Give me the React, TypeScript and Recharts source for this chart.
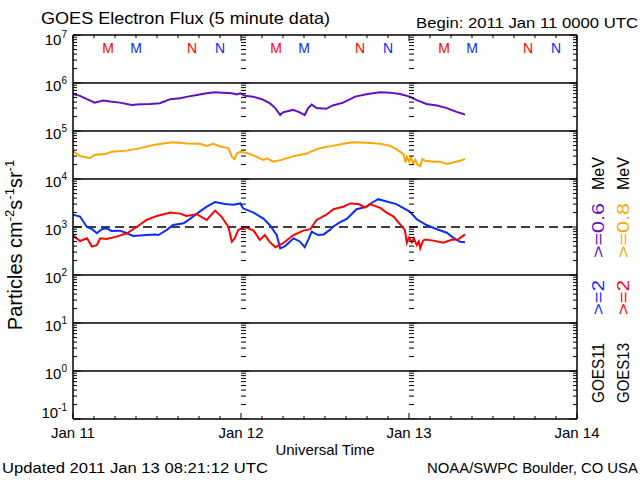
import React from 'react';
import { ComposedChart, Line, XAxis, YAxis, ReferenceLine, Scatter } from 'recharts';

const FONT = '"Liberation Sans", Arial, Helvetica, sans-serif';

// ---- axis definitions ----
const dayLabels = ['Jan 11', 'Jan 12', 'Jan 13', 'Jan 14'];
const xTicks = [0, 3, 6, 9, 12, 15, 18, 21, 24, 27, 30, 33, 36, 39, 42, 45, 48, 51, 54, 57, 60, 63, 66, 69, 72];
const yExponents = [-1, 0, 1, 2, 3, 4, 5, 6];
const decadeLines = [1e6, 1e5, 1e4, 1e2, 1e1, 1e0];
const thresholdLine = 1e3;
const dayLineHours = [24, 48];

// ---- data: hours since 2011 Jan 11 00:00 UTC ----
// GOES11 >=0.6 MeV (purple)
const g11LowT = [0, 1.0, 2.0, 3.1, 4.3, 5.3, 6.7, 8.4, 9.6, 11.0, 12.4, 13.9, 15.3, 16.4, 17.7, 19.1, 20.3, 21.4, 22.7, 23.4, 23.9, 24.6, 25.7, 27.0, 28.1, 28.9, 29.6, 30.0, 31.4, 32.4, 33.1, 33.6, 34.1, 34.8, 36.2, 37.1, 38.6, 40.3, 42.1, 43.9, 45.3, 46.7, 48.1, 49.1, 50.5, 52.0, 53.4, 54.8, 56.0];
const g11LowV = [5.9e5, 5.4e5, 4.6e5, 3.9e5, 4.3e5, 4.1e5, 3.9e5, 3.5e5, 3.6e5, 3.65e5, 3.8e5, 4.6e5, 4.8e5, 5.2e5, 5.6e5, 6.1e5, 6.4e5, 6.3e5, 6.1e5, 5.8e5, 6.1e5, 5.4e5, 5.2e5, 4.6e5, 3.8e5, 3.0e5, 2.15e5, 2.45e5, 2.75e5, 2.45e5, 2.15e5, 3.0e5, 3.55e5, 3.0e5, 2.9e5, 3.4e5, 3.9e5, 5.2e5, 5.9e5, 6.4e5, 6.3e5, 5.9e5, 5.2e5, 4.4e5, 3.65e5, 3.4e5, 3.0e5, 2.5e5, 2.2e5];
// GOES13 >=0.8 MeV (orange)
const g13LowT = [0, 0.5, 1.0, 2.4, 3.1, 4.6, 5.5, 7.7, 9.6, 11.5, 12.9, 14.3, 16.2, 18.1, 19.1, 20.0, 21.2, 22.2, 22.7, 23.1, 23.4, 23.9, 24.8, 26.0, 27.2, 27.7, 28.6, 29.8, 31.5, 33.4, 34.8, 36.2, 37.1, 38.6, 40.0, 41.9, 43.9, 45.3, 46.2, 47.2, 47.5, 47.7, 48.0, 48.3, 48.6, 48.9, 49.2, 49.6, 49.9, 50.3, 51.5, 52.4, 53.4, 54.3, 55.3, 56.0];
const g13LowV = [3.8e4, 3.4e4, 3.0e4, 2.7e4, 3.2e4, 3.3e4, 3.7e4, 3.9e4, 4.4e4, 5.1e4, 5.5e4, 5.8e4, 5.5e4, 5.4e4, 4.9e4, 5.4e4, 4.7e4, 4.4e4, 2.9e4, 2.6e4, 3.4e4, 3.7e4, 3.5e4, 3.0e4, 2.5e4, 2.7e4, 2.3e4, 2.5e4, 3.0e4, 3.4e4, 4.2e4, 4.7e4, 4.9e4, 5.4e4, 5.8e4, 5.7e4, 5.4e4, 4.9e4, 4.2e4, 3.3e4, 2.2e4, 2.9e4, 2.3e4, 2.8e4, 2.1e4, 2.5e4, 2.0e4, 1.85e4, 2.6e4, 2.4e4, 2.3e4, 2.3e4, 2.05e4, 2.2e4, 2.4e4, 2.6e4];
// GOES11 >=2 MeV (blue)
const g11HighT = [0, 1.0, 2.0, 2.7, 3.4, 4.1, 4.8, 5.5, 6.7, 7.7, 8.6, 10.5, 11.7, 12.2, 13.4, 14.3, 15.8, 16.5, 17.7, 19.1, 20.3, 21.7, 22.9, 23.9, 24.3, 25.8, 27.2, 28.1, 29.1, 29.6, 30.3, 31.5, 32.4, 33.1, 33.6, 34.1, 35.0, 35.8, 36.7, 37.1, 38.1, 39.1, 40.5, 42.0, 42.7, 43.6, 44.8, 46.2, 48.1, 49.1, 50.5, 52.0, 53.4, 54.3, 55.3, 56.0];
const g11HighV = [1800, 1650, 1000, 910, 740, 900, 940, 830, 840, 740, 650, 680, 700, 680, 870, 1100, 1200, 1400, 1900, 2650, 3300, 3000, 2900, 3100, 2450, 2000, 1500, 1100, 680, 360, 400, 580, 500, 380, 540, 800, 680, 700, 870, 1000, 1250, 1470, 2350, 2650, 3200, 3800, 3400, 3000, 2100, 1450, 1100, 900, 760, 600, 490, 480];
// GOES13 >=2 MeV (red)
const g13HighT = [0, 0.5, 1.0, 2.0, 2.7, 3.4, 3.9, 4.8, 6.2, 7.7, 9.1, 10.5, 12.0, 13.9, 15.3, 16.2, 17.7, 19.1, 20.3, 21.2, 22.2, 22.7, 23.1, 23.6, 24.6, 25.8, 26.7, 27.4, 28.1, 28.9, 30.0, 31.5, 32.9, 33.9, 34.8, 36.2, 37.2, 38.6, 39.6, 40.8, 41.7, 42.4, 43.9, 44.8, 45.8, 46.7, 47.4, 47.7, 48.0, 48.4, 48.7, 49.1, 49.4, 49.6, 50.0, 50.3, 51.5, 52.9, 54.1, 55.0, 56.0];
const g13HighV = [680, 580, 510, 580, 390, 420, 580, 560, 630, 740, 1000, 1400, 1700, 2000, 1900, 1700, 1850, 1400, 2200, 1650, 1000, 490, 580, 870, 1000, 840, 540, 680, 490, 380, 460, 680, 840, 900, 1400, 1800, 2350, 2650, 3100, 3000, 2550, 3000, 2500, 2000, 1650, 1150, 870, 470, 600, 480, 580, 420, 500, 360, 520, 550, 520, 470, 540, 550, 700];

// local midnight (M) / noon (N) markers
const markerHours = [5, 9, 17, 21, 29, 33, 41, 45, 53, 57, 65, 69];
const markerText = ['M', 'M', 'N', 'N', 'M', 'M', 'N', 'N', 'M', 'M', 'N', 'N'];
const markerSat = ['G13', 'G11', 'G13', 'G11', 'G13', 'G11', 'G13', 'G11', 'G13', 'G11', 'G13', 'G11'];
const markerLevel = 5.4e6;

// ---- colours ----
const C_PURPLE = '#6410c0';
const C_ORANGE = '#ffa500';
const C_BLUE = '#0a2cff';
const C_RED = '#ff0000';
const satColor: Record<string, string> = { G13: C_RED, G11: C_BLUE };

const zip = (t: number[], v: number[]) => t.map((h, i) => ({ h, v: v[i] }));
const purpleData = zip(g11LowT, g11LowV);
const orangeData = zip(g13LowT, g13LowV);
const blueData = zip(g11HighT, g11HighV);
const redData = zip(g13HighT, g13HighV);

const yTicks: number[] = [];
yExponents.forEach((e) => {
  for (let k = 1; k <= 9; k++) yTicks.push(Number((k * Math.pow(10, e)).toPrecision(6)));
});
yTicks.push(1e7);

const dayTickData: { h: number; v: number }[] = [];
dayLineHours.forEach((h) => yTicks.forEach((v) => dayTickData.push({ h, v })));

const markerData = markerHours.map((h, i) => ({ h, v: markerLevel, t: markerText[i], s: markerSat[i] }));

const isMajor = (v: number) => {
  const l = Math.log10(v);
  return Math.abs(l - Math.round(l)) < 1e-6;
};

const LeftTick = (p: any) => {
  const { x, y, payload } = p;
  const v = payload.value;
  const major = isMajor(v);
  const e = Math.round(Math.log10(v));
  let ly = y + 8;
  if (e === 7) ly = y + 10;
  if (e === -1) ly = y - 1;
  return (
    <g>
      <line x1={x} x2={x + (major ? 8 : 4)} y1={y} y2={y} stroke="#000" strokeWidth={1} />
      {major && (
        <text x={x - 6} y={ly} textAnchor="end" fontSize={15} fill="#000" fontFamily={FONT}>
          10<tspan dy={-7} fontSize={10}>{String(e)}</tspan>
        </text>
      )}
    </g>
  );
};

const RightTick = (p: any) => {
  const { x, y, payload } = p;
  const major = isMajor(payload.value);
  return <line x1={x} x2={x - (major ? 8 : 4)} y1={y} y2={y} stroke="#000" strokeWidth={1} />;
};

const BottomTick = (p: any) => {
  const { x, y, payload } = p;
  const v = payload.value;
  const major = v % 24 === 0;
  return (
    <g>
      <line x1={x} x2={x} y1={y} y2={y - (major ? 6 : 3)} stroke="#000" strokeWidth={1} />
      {major && (
        <text x={x} y={y + 19} textAnchor="middle" fontSize={15} fill="#000" fontFamily={FONT}>
          {dayLabels[v / 24]}
        </text>
      )}
    </g>
  );
};

const TopTick = (p: any) => {
  const { x, y, payload } = p;
  const major = payload.value % 24 === 0;
  return <line x1={x} x2={x} y1={y} y2={y + (major ? 6 : 3)} stroke="#000" strokeWidth={1} />;
};

const DayTickShape = (p: any) => {
  const { cx, cy, payload } = p;
  const major = isMajor(payload.v);
  return <line x1={cx} x2={cx + (major ? 8 : 5)} y1={cy} y2={cy} stroke="#000" strokeWidth={1} />;
};

const MarkerShape = (p: any) => {
  const { cx, cy, payload } = p;
  return (
    <text x={cx} y={cy + 5} textAnchor="middle" fontSize={14} fill={satColor[payload.s]} fontFamily={FONT}>
      {payload.t}
    </text>
  );
};

const axisLine = { stroke: '#000', strokeWidth: 1.5 };

export default function App() {
  return (
    <div style={{ position: 'absolute', left: 0, top: 0, width: 640, height: 480, background: '#fff' }}>
      <ComposedChart width={640} height={480} margin={{ top: 34, right: 62, bottom: 60, left: 72 }}>
        <XAxis xAxisId="b" type="number" dataKey="h" domain={[0, 72]} ticks={xTicks} interval={0}
          tickSize={0} tickMargin={0} tickLine={false} axisLine={axisLine} height={1} tick={BottomTick} allowDataOverflow />
        <XAxis xAxisId="t" orientation="top" type="number" dataKey="h" domain={[0, 72]} ticks={xTicks} interval={0}
          tickSize={0} tickMargin={0} tickLine={false} axisLine={axisLine} height={1} tick={TopTick} allowDataOverflow />
        <YAxis yAxisId="l" type="number" scale="log" domain={[0.1, 1e7]} ticks={yTicks} interval={0}
          width={1} tickSize={0} tickMargin={0} tickLine={false} axisLine={axisLine} tick={LeftTick} allowDataOverflow />
        <YAxis yAxisId="r" orientation="right" type="number" scale="log" domain={[0.1, 1e7]} ticks={yTicks} interval={0}
          width={1} tickSize={0} tickMargin={0} tickLine={false} axisLine={axisLine} tick={RightTick} allowDataOverflow />
        {decadeLines.map((v) => (
          <ReferenceLine key={v} xAxisId="b" yAxisId="l" y={v} stroke="#000" strokeWidth={1.5} />
        ))}
        <ReferenceLine xAxisId="b" yAxisId="l" y={thresholdLine} stroke="#000" strokeWidth={1.5} strokeDasharray="9 5" />
        <Scatter xAxisId="b" yAxisId="l" data={dayTickData} dataKey="v" shape={DayTickShape} isAnimationActive={false} />
        <Line xAxisId="b" yAxisId="l" data={purpleData} dataKey="v" type="linear" stroke={C_PURPLE} strokeWidth={2} dot={false} isAnimationActive={false} />
        <Line xAxisId="b" yAxisId="l" data={orangeData} dataKey="v" type="linear" stroke={C_ORANGE} strokeWidth={2} dot={false} isAnimationActive={false} />
        <Line xAxisId="b" yAxisId="l" data={blueData} dataKey="v" type="linear" stroke={C_BLUE} strokeWidth={2} dot={false} isAnimationActive={false} />
        <Line xAxisId="b" yAxisId="l" data={redData} dataKey="v" type="linear" stroke={C_RED} strokeWidth={2} dot={false} isAnimationActive={false} />
        <Scatter xAxisId="b" yAxisId="l" data={markerData} dataKey="v" shape={MarkerShape} isAnimationActive={false} />
      </ComposedChart>
      <svg width={640} height={480} style={{ position: 'absolute', left: 0, top: 0, pointerEvents: 'none' }} fontFamily={FONT}>
        <text x={41} y={24} fontSize={17} textLength={289} lengthAdjust="spacingAndGlyphs" fill="#000">GOES Electron Flux (5 minute data)</text>
        <text x={416} y={28} fontSize={15} textLength={222} lengthAdjust="spacingAndGlyphs" fill="#000">Begin: 2011 Jan 11 0000 UTC</text>
        <text x={325} y={455} fontSize={15} textAnchor="middle" fill="#000">Universal Time</text>
        <text x={2} y={473} fontSize={15} textLength={266} lengthAdjust="spacingAndGlyphs" fill="#000">Updated 2011 Jan 13 08:21:12 UTC</text>
        <text x={427} y={473} fontSize={15} textLength={211} lengthAdjust="spacingAndGlyphs" fill="#000">NOAA/SWPC Boulder, CO USA</text>
        <text transform="translate(22,245) rotate(-90)" textAnchor="middle" fontSize={20} fill="#000">
          <tspan>Particles cm</tspan>
          <tspan dy={-8} fontSize={13}>-2</tspan>
          <tspan dy={8}>s</tspan>
          <tspan dy={-8} fontSize={13}>-1</tspan>
          <tspan dy={8}>sr</tspan>
          <tspan dy={-8} fontSize={13}>-1</tspan>
        </text>
        {[
          { x: 604, sat: 'GOES11', hi: '>=2', hiC: C_BLUE, lo: '>=0.6', loC: C_PURPLE },
          { x: 629, sat: 'GOES13', hi: '>=2', hiC: C_RED, lo: '>=0.8', loC: C_ORANGE },
        ].map((c) => (
          <g key={c.sat} fontSize={17}>
            <text transform={`translate(${c.x},373) rotate(-90)`} textAnchor="middle" textLength={60} lengthAdjust="spacingAndGlyphs" fill="#000">{c.sat}</text>
            <text transform={`translate(${c.x},297.5) rotate(-90)`} textAnchor="middle" textLength={35} lengthAdjust="spacingAndGlyphs" fill={c.hiC}>{c.hi}</text>
            <text transform={`translate(${c.x},230.5) rotate(-90)`} textAnchor="middle" textLength={55} lengthAdjust="spacingAndGlyphs" fill={c.loC}>{c.lo}</text>
            <text transform={`translate(${c.x},173.5) rotate(-90)`} textAnchor="middle" textLength={33} lengthAdjust="spacingAndGlyphs" fill="#000">MeV</text>
          </g>
        ))}
      </svg>
    </div>
  );
}
